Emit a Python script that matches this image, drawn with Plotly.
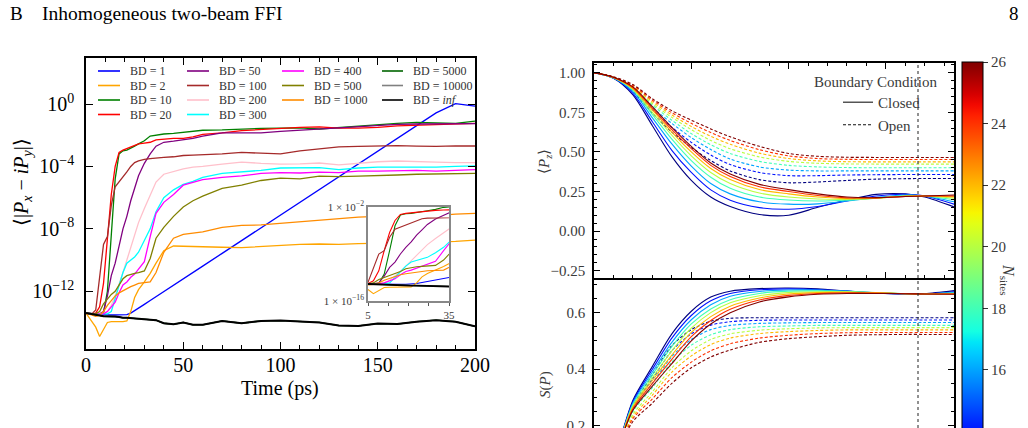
import numpy as np
import plotly.graph_objects as go

W, H = 1028, 428
def fx(p): return p / W
def fy(p): return 1 - p / H

# ---------------- left panel data (log10 <|Px - iPy|>) ----------------
T = [0, 3, 5, 7, 9, 11, 13, 15, 17, 19, 21, 23, 25, 27, 30, 33, 36, 40, 45, 50, 55, 60,
     70, 80, 90, 100, 110, 120, 130, 140, 150, 160, 170, 180, 190, 200]

BD1 = [-13.45, -13.48, -13.5, -13.52, -13.52, -13.52, -13.52, -13.52, -13.52, -13.5, -13.5, -13.4,
       -13.25, -13.08, -12.84, -12.59, -12.35, -12.02, -11.61, -11.2, -10.79, -10.39,
       -9.57, -8.75, -7.94, -7.12, -6.3, -5.48, -4.67, -3.85, -3.03, -2.21, -1.39, -0.57, 0.03, -0.13]
BD2 = [-13.4, -13.9, -14.3, -14.9, -14.4, -14.0, -13.95, -13.95, -13.95, -13.95, -13.9, -13.3,
       -12.4, -11.9, -11.4, -10.85, -10.2, -9.4, -9.1, -9.12, -9.15, -9.15,
       -9.18, -9.2, -9.12, -9.05, -9.0, -8.97, -9.0, -8.95, -8.93, -8.9, -8.87, -8.85, -8.8, -8.72]
BD10 = [-13.4, -13.45, -13.45, -13.45, -13.4, -12.0, -8.5, -4.8, -3.2, -3.0, -2.95, -2.85,
        -2.7, -2.55, -2.35, -2.05, -1.98, -1.92, -1.88, -1.8, -1.75, -1.68,
        -1.66, -1.6, -1.56, -1.55, -1.53, -1.6, -1.5, -1.4, -1.3, -1.24, -1.18, -1.2, -1.24, -1.1]
BD20 = [-13.4, -13.45, -13.4, -13.0, -11.5, -8.5, -5.8, -4.0, -3.1, -2.95, -2.85, -2.8,
        -2.65, -2.55, -2.5, -2.45, -2.3, -2.25, -2.2, -2.2, -2.1, -1.95,
        -1.85, -1.7, -1.63, -1.6, -1.5, -1.47, -1.55, -1.55, -1.5, -1.4, -1.35, -1.3, -1.28, -1.24]
BD50 = [-13.4, -13.45, -13.45, -13.45, -13.3, -12.3, -11.0, -10.2, -9.0, -8.0, -7.2, -6.2,
        -5.4, -4.6, -3.8, -3.2, -2.7, -2.45, -2.38, -2.3, -2.2, -2.05,
        -1.85, -1.85, -1.85, -1.75, -1.68, -1.58, -1.55, -1.45, -1.38, -1.3, -1.28, -1.28, -1.27, -1.25]
BD100 = [-13.4, -13.45, -13.2, -11.0, -9.0, -8.5, -6.5, -5.3, -5.0, -4.7, -4.35, -4.0,
         -3.75, -3.65, -3.55, -3.5, -3.45, -3.42, -3.38, -3.3, -3.27, -3.25,
         -3.2, -3.1, -3.15, -3.2, -3.0, -2.88, -2.75, -2.72, -2.7, -2.67, -2.7, -2.72, -2.68, -2.69]
BD200 = [-13.4, -13.45, -13.45, -13.45, -13.4, -13.3, -12.9, -12.3, -11.6, -10.8, -10.0, -9.2,
         -8.4, -7.6, -6.7, -5.9, -5.0, -4.5, -4.3, -4.15, -4.05, -4.0,
         -3.85, -3.72, -3.8, -3.85, -3.83, -3.78, -3.9, -3.78, -3.7, -3.65, -3.7, -3.72, -3.75, -3.76]
BD300 = [-13.4, -13.45, -13.45, -13.45, -13.45, -13.45, -13.3, -12.5, -11.6, -10.8, -10.2, -10.0,
         -9.8, -9.5, -8.8, -8.0, -6.9, -6.0, -5.5, -5.15, -4.95, -4.7,
         -4.45, -4.35, -4.25, -4.1, -4.1, -4.08, -4.2, -4.1, -4.05, -4.05, -4.08, -4.05, -4.0, -3.97]
BD400 = [-13.4, -13.45, -13.45, -13.45, -13.45, -13.3, -13.0, -12.7, -12.1, -11.6, -11.4, -11.1,
         -10.9, -10.6, -10.1, -8.5, -7.0, -6.3, -5.8, -5.2, -5.0, -4.85,
         -4.7, -4.6, -4.45, -4.4, -4.42, -4.36, -4.4, -4.3, -4.3, -4.28, -4.25, -4.3, -4.25, -4.2]
BD500 = [-13.4, -13.45, -13.45, -13.3, -12.8, -12.5, -12.2, -12.0, -11.6, -11.2, -11.0, -10.9,
         -10.85, -10.8, -10.7, -9.9, -8.6, -7.9, -7.2, -6.6, -6.2, -5.9,
         -5.4, -5.2, -4.9, -4.75, -4.8, -4.62, -4.65, -4.62, -4.6, -4.55, -4.5, -4.47, -4.45, -4.44]
BD1000 = [-13.4, -13.5, -13.6, -13.55, -13.3, -12.9, -12.6, -12.3, -12.1, -11.95, -11.8, -11.7,
          -11.6, -11.5, -11.45, -11.4, -10.8, -9.5, -8.6, -8.35, -8.28, -8.2,
          -7.9, -7.78, -7.75, -7.65, -7.55, -7.42, -7.35, -7.25, -7.2, -7.25, -7.12, -7.15, -7.05, -7.01]
BDinf = [-13.4, -13.45, -13.5, -13.55, -13.6, -13.6, -13.62, -13.62, -13.65, -13.7, -13.7, -13.72,
         -13.72, -13.74, -13.75, -13.8, -13.85, -14.05, -14.12, -14.0, -14.15, -14.15,
         -13.9, -14.05, -13.9, -13.88, -13.95, -14.0, -14.2, -14.22, -14.07, -14.1, -13.95, -13.85, -13.95, -14.25]
# BD = 5000 and BD = 10000 lie underneath the (thicker) BD = inf curve
BD5000 = list(BDinf)
BD10000 = list(BDinf)

BD_LABELS = ["BD = 1", "BD = 2", "BD = 10", "BD = 20", "BD = 50", "BD = 100", "BD = 200",
             "BD = 300", "BD = 400", "BD = 500", "BD = 1000", "BD = 5000", "BD = 10000",
             "BD = <i>inf</i>"]
BD_VALUES = [BD1, BD2, BD10, BD20, BD50, BD100, BD200, BD300, BD400, BD500, BD1000,
             BD5000, BD10000, BDinf]
BD_COLORS = ["#0000ff", "#ffa500", "#008000", "#ff0000", "#800080", "#a52a2a", "#ffc0cb",
             "#00ffff", "#ff00ff", "#808000", "#ff8c00", "#006400", "#808080", "#000000"]

# ---------------- right panels data ----------------
NS = [12, 14, 16, 18, 20, 22, 24, 26]
TR = [0, 2, 4, 6, 8, 10, 12, 14, 17, 20, 23, 26, 29, 32, 34, 37]
PZ_CLOSED = {
    12: [1.0, 0.965, 0.86, 0.665, 0.47, 0.32, 0.215, 0.155, 0.105, 0.10, 0.15, 0.196, 0.232, 0.235, 0.215, 0.153],
    14: [1.0, 0.966, 0.87, 0.69, 0.51, 0.37, 0.26, 0.195, 0.148, 0.138, 0.155, 0.19, 0.222, 0.232, 0.222, 0.17],
    16: [1.0, 0.967, 0.88, 0.715, 0.55, 0.41, 0.30, 0.235, 0.185, 0.17, 0.172, 0.19, 0.212, 0.228, 0.222, 0.185],
    18: [1.0, 0.968, 0.89, 0.735, 0.58, 0.445, 0.34, 0.27, 0.215, 0.196, 0.19, 0.195, 0.208, 0.225, 0.222, 0.198],
    20: [1.0, 0.969, 0.895, 0.75, 0.605, 0.475, 0.37, 0.30, 0.24, 0.215, 0.203, 0.2, 0.207, 0.222, 0.222, 0.208],
    22: [1.0, 0.97, 0.90, 0.765, 0.625, 0.50, 0.395, 0.325, 0.262, 0.235, 0.215, 0.205, 0.208, 0.22, 0.222, 0.216],
    24: [1.0, 0.97, 0.905, 0.775, 0.64, 0.52, 0.415, 0.345, 0.28, 0.25, 0.225, 0.21, 0.21, 0.219, 0.222, 0.222],
    26: [1.0, 0.971, 0.91, 0.785, 0.655, 0.535, 0.43, 0.36, 0.295, 0.262, 0.235, 0.215, 0.211, 0.218, 0.222, 0.228],
}
PZ_OPEN = {
    12: [1.0, 0.967, 0.88, 0.745, 0.625, 0.528, 0.445, 0.38, 0.325, 0.305, 0.31, 0.32, 0.328, 0.331, 0.332, 0.332],
    14: [1.0, 0.968, 0.89, 0.765, 0.655, 0.56, 0.48, 0.42, 0.37, 0.35, 0.35, 0.354, 0.356, 0.357, 0.357, 0.357],
    16: [1.0, 0.969, 0.895, 0.78, 0.68, 0.59, 0.515, 0.455, 0.405, 0.385, 0.38, 0.38, 0.38, 0.38, 0.38, 0.38],
    18: [1.0, 0.97, 0.90, 0.795, 0.70, 0.615, 0.545, 0.49, 0.44, 0.415, 0.405, 0.401, 0.40, 0.40, 0.40, 0.40],
    20: [1.0, 0.971, 0.907, 0.805, 0.718, 0.64, 0.572, 0.52, 0.468, 0.44, 0.428, 0.424, 0.423, 0.423, 0.423, 0.423],
    22: [1.0, 0.972, 0.913, 0.816, 0.733, 0.66, 0.598, 0.548, 0.492, 0.458, 0.443, 0.438, 0.437, 0.437, 0.437, 0.437],
    24: [1.0, 0.973, 0.919, 0.826, 0.747, 0.68, 0.622, 0.572, 0.514, 0.475, 0.458, 0.453, 0.452, 0.452, 0.452, 0.452],
    26: [1.0, 0.975, 0.925, 0.835, 0.76, 0.70, 0.645, 0.595, 0.535, 0.49, 0.472, 0.466, 0.465, 0.465, 0.465, 0.465],
}
S_CLOSED = {
    12: [0, 0.09, 0.29, 0.41, 0.525, 0.605, 0.655, 0.676, 0.685, 0.687, 0.684, 0.676, 0.669, 0.666, 0.667, 0.678],
    14: [0, 0.09, 0.285, 0.40, 0.51, 0.59, 0.642, 0.668, 0.681, 0.684, 0.682, 0.676, 0.67, 0.666, 0.666, 0.674],
    16: [0, 0.09, 0.28, 0.39, 0.495, 0.575, 0.628, 0.658, 0.675, 0.68, 0.68, 0.676, 0.67, 0.667, 0.666, 0.671],
    18: [0, 0.09, 0.275, 0.38, 0.48, 0.56, 0.613, 0.646, 0.668, 0.676, 0.677, 0.675, 0.671, 0.667, 0.666, 0.669],
    20: [0, 0.09, 0.27, 0.37, 0.465, 0.545, 0.60, 0.635, 0.66, 0.671, 0.674, 0.674, 0.671, 0.667, 0.666, 0.668],
    22: [0, 0.09, 0.265, 0.36, 0.45, 0.53, 0.586, 0.623, 0.652, 0.666, 0.671, 0.672, 0.67, 0.667, 0.666, 0.667],
    24: [0, 0.09, 0.26, 0.35, 0.435, 0.515, 0.572, 0.612, 0.645, 0.661, 0.668, 0.67, 0.669, 0.667, 0.666, 0.666],
    26: [0, 0.09, 0.255, 0.34, 0.42, 0.50, 0.56, 0.60, 0.638, 0.656, 0.665, 0.668, 0.668, 0.667, 0.666, 0.665],
}
S_OPEN = {
    12: [0, 0.09, 0.27, 0.38, 0.483, 0.54, 0.57, 0.58, 0.582, 0.582, 0.582, 0.582, 0.582, 0.582, 0.582, 0.582],
    14: [0, 0.09, 0.265, 0.365, 0.465, 0.525, 0.556, 0.568, 0.573, 0.574, 0.574, 0.574, 0.574, 0.574, 0.574, 0.574],
    16: [0, 0.088, 0.26, 0.35, 0.445, 0.505, 0.54, 0.555, 0.562, 0.564, 0.565, 0.565, 0.565, 0.565, 0.565, 0.565],
    18: [0, 0.088, 0.25, 0.335, 0.425, 0.485, 0.522, 0.54, 0.55, 0.553, 0.555, 0.555, 0.555, 0.555, 0.555, 0.555],
    20: [0, 0.087, 0.24, 0.32, 0.405, 0.465, 0.505, 0.525, 0.538, 0.543, 0.546, 0.547, 0.547, 0.547, 0.547, 0.547],
    22: [0, 0.087, 0.232, 0.308, 0.39, 0.447, 0.487, 0.51, 0.526, 0.533, 0.537, 0.539, 0.539, 0.539, 0.539, 0.539],
    24: [0, 0.086, 0.225, 0.295, 0.37, 0.425, 0.465, 0.49, 0.51, 0.52, 0.526, 0.529, 0.53, 0.53, 0.53, 0.53],
    26: [0, 0.085, 0.215, 0.28, 0.35, 0.405, 0.443, 0.468, 0.495, 0.508, 0.515, 0.52, 0.522, 0.523, 0.523, 0.523],
}
T_MARK = 33.3
N_MIN, N_MAX = 12, 26


def jet(v):
    r = np.interp(v, [0, 0.35, 0.66, 0.89, 1], [0, 0, 1, 1, 0.5])
    g = np.interp(v, [0, 0.125, 0.375, 0.64, 0.91, 1], [0, 0, 1, 1, 0, 0])
    b = np.interp(v, [0, 0.11, 0.34, 0.65, 1], [0.5, 1, 1, 0, 0])
    return "rgb(%d,%d,%d)" % (round(r * 255), round(g * 255), round(b * 255))


JET = [[float(v), jet(v)] for v in np.linspace(0, 1, 41)]
SERIF = "Liberation Serif"
GREY_TXT = "#3a3a3a"

fig = go.Figure()

# main left panel traces
for lab, vals, col in zip(BD_LABELS, BD_VALUES, BD_COLORS):
    w = 2.0 if col == "#000000" else 1.3
    fig.add_trace(go.Scatter(x=T, y=np.power(10.0, vals), mode="lines", name=lab,
                             line=dict(color=col, width=w), showlegend=False,
                             xaxis="x", yaxis="y", hoverinfo="skip"))

# inset: opaque background then the same curves
fig.add_trace(go.Scatter(x=[0, 40, 40, 0, 0], y=[1e-20, 1e-20, 1, 1, 1e-20], fill="toself",
                         fillcolor="white", line=dict(width=0), mode="lines",
                         xaxis="x2", yaxis="y2", showlegend=False, hoverinfo="skip"))
for lab, vals, col in zip(BD_LABELS, BD_VALUES, BD_COLORS):
    w = 1.8 if col == "#000000" else 1.1
    fig.add_trace(go.Scatter(x=T, y=np.power(10.0, vals), mode="lines",
                             line=dict(color=col, width=w), showlegend=False,
                             xaxis="x2", yaxis="y2", hoverinfo="skip"))

# right panels
for N in NS:
    c = jet((N - N_MIN) / (N_MAX - N_MIN))
    for data, ax, ay, dash in [(PZ_CLOSED, "x3", "y3", "solid"), (PZ_OPEN, "x3", "y3", "3px,2px"),
                               (S_CLOSED, "x4", "y4", "solid"), (S_OPEN, "x4", "y4", "3px,2px")]:
        fig.add_trace(go.Scatter(x=TR, y=data[N], mode="lines",
                                 line=dict(color=c, width=1.1, dash=dash, shape="spline", smoothing=0.8),
                                 showlegend=False, xaxis=ax, yaxis=ay, hoverinfo="skip"))

# legend entries for boundary condition
fig.add_trace(go.Scatter(x=[None], y=[None], mode="lines", name="Closed",
                         line=dict(color="#555555", width=1.5), xaxis="x3", yaxis="y3"))
fig.add_trace(go.Scatter(x=[None], y=[None], mode="lines", name="Open",
                         line=dict(color="#111111", width=1.2, dash="3px,2px"), xaxis="x3", yaxis="y3"))

# colorbar carrier
fig.add_trace(go.Scatter(x=[None], y=[None], mode="markers", showlegend=False, xaxis="x3", yaxis="y3",
                         marker=dict(color=[N_MIN], colorscale=JET, cmin=N_MIN, cmax=N_MAX, showscale=True,
                                     colorbar=dict(x=fx(962), xanchor="left", y=fy(62), yanchor="top",
                                                   lenmode="pixels", len=431, thickness=21,
                                                   xpad=0, ypad=0, outlinewidth=1, outlinecolor="black",
                                                   ticks="outside", ticklen=5, tickcolor="#333",
                                                   tickvals=[14, 16, 18, 20, 22, 24, 26],
                                                   tickfont=dict(family=SERIF, size=15, color=GREY_TXT)))))

main_ax = dict(showline=True, linecolor="black", linewidth=1.5, mirror="allticks", ticks="inside",
               showgrid=False, zeroline=False, tickcolor="black")
right_ax = dict(showline=True, linecolor="black", linewidth=1.5, mirror="allticks", ticks="inside",
                showgrid=False, zeroline=False, tickcolor="black", ticklen=6, tickwidth=1.2)

fig.update_layout(
    width=W, height=H, margin=dict(l=0, r=0, t=0, b=0, autoexpand=False),
    paper_bgcolor="white", plot_bgcolor="white",
    font=dict(family=SERIF, color="black"),
    showlegend=True,
    legend=dict(x=fx(838), y=fy(86), xanchor="left", yanchor="top", bgcolor="rgba(0,0,0,0)",
                font=dict(family=SERIF, size=15, color=GREY_TXT), tracegroupgap=0),
    xaxis=dict(main_ax, domain=[fx(86), fx(475)], range=[0, 200], anchor="y", tick0=0, dtick=50,
               ticklen=7, tickwidth=1.2, ticklabelstandoff=-3,
               minor=dict(dtick=10, ticklen=4, ticks="inside", tickwidth=1, tickcolor="black"),
               tickfont=dict(family=SERIF, size=20)),
    yaxis=dict(main_ax, domain=[fy(349), fy(58)], type="log", range=[-15.7, 2.95], anchor="x",
               tickvals=[1, 1e-4, 1e-8, 1e-12],
               ticktext=["10<sup>0</sup>", "10<sup>−4</sup>", "10<sup>−8</sup>", "10<sup>−12</sup>"],
               ticklen=7, tickwidth=1.2, ticklabelstandoff=6, tickfont=dict(family=SERIF, size=20)),
    xaxis2=dict(domain=[fx(368), fx(449)], range=[5, 35], anchor="y2", showline=True, linecolor="#888888",
                linewidth=1.5, mirror=True, ticks="outside", ticklen=3, tickcolor="#555",
                tickvals=[5, 12.5, 20, 27.5, 35], ticktext=["5", "", "", "", "35"], showgrid=False,
                zeroline=False, tickfont=dict(family=SERIF, size=11, color=GREY_TXT)),
    yaxis2=dict(domain=[fy(301), fy(207)], type="log", range=[-16, -2], anchor="x2", showline=True,
                linecolor="#888888", linewidth=1.5, mirror=True, ticks="", showgrid=False, zeroline=False,
                tickvals=[1e-2, 1e-16],
                ticktext=["1 × 10<sup>−2</sup>", "1 × 10<sup>−16</sup>"],
                tickfont=dict(family=SERIF, size=11, color=GREY_TXT)),
    xaxis3=dict(right_ax, domain=[fx(594), fx(954)], range=[0, 37], anchor="y3", dtick=10, tick0=0,
                showticklabels=False,
                minor=dict(dtick=2, ticklen=3.5, ticks="inside", tickwidth=1, tickcolor="black")),
    yaxis3=dict(right_ax, domain=[fy(278), fy(63)], range=[-0.296, 1.061], anchor="x3", dtick=0.25,
                tick0=0, tickformat=".2f", ticklabelstandoff=4,
                minor=dict(dtick=0.05, ticklen=3.5, ticks="inside", tickwidth=1, tickcolor="black"),
                tickfont=dict(family=SERIF, size=15, color=GREY_TXT)),
    xaxis4=dict(domain=[fx(594), fx(954)], range=[0, 37], anchor="y4", showline=False, ticks="",
                showticklabels=False, showgrid=False, zeroline=False),
    yaxis4=dict(right_ax, domain=[0, fy(278)], range=[0.192, 0.7226], anchor="x4",
                tickvals=[0.2, 0.4, 0.6], tickformat=".1f", ticklabelstandoff=4, ticklabeloverflow="allow",
                minor=dict(dtick=0.05, ticklen=3.5, ticks="inside", tickwidth=1, tickcolor="black"),
                tickfont=dict(family=SERIF, size=15, color=GREY_TXT)),
)

# gray shaded window (t = 5..35 ps, up to 1e-2)
fig.add_shape(type="rect", xref="x", yref="y", x0=5, x1=35, y0=-15.7, y1=-2,
              fillcolor="#c8c8c8", line=dict(width=0), layer="below")
# dotted marker line on right panels
for yr in ["y3 domain", "y4 domain"]:
    xr = "x3" if yr.startswith("y3") else "x4"
    fig.add_shape(type="line", xref=xr, yref=yr, x0=T_MARK, x1=T_MARK, y0=0, y1=1,
                  line=dict(color="#222", width=1, dash="dot"))

# manual multi-column legend for the left panel
cols = [(98, 120, 128), (187, 209, 217), (282, 304, 312), (382, 403, 411)]
rows = [71, 85.5, 100, 114.5]
layout_order = [[0, 1, 2, 3], [4, 5, 6, 7], [8, 9, 10], [11, 12, 13]]
for ci, idxs in enumerate(layout_order):
    x0, x1, xt = cols[ci]
    for ri, k in enumerate(idxs):
        yy = rows[ri]
        fig.add_shape(type="line", xref="paper", yref="paper", x0=fx(x0), x1=fx(x1), y0=fy(yy), y1=fy(yy),
                      line=dict(color=BD_COLORS[k], width=1.6))
        fig.add_annotation(x=fx(xt), y=fy(yy), xref="paper", yref="paper", text=BD_LABELS[k],
                           showarrow=False, xanchor="left", yanchor="middle",
                           font=dict(family=SERIF, size=12, color="#333"))

ann = [
    dict(x=fx(8), y=fy(14), text="B", xanchor="left", font=dict(size=19)),
    dict(x=fx(40), y=fy(14), text="Inhomogeneous two-beam FFI", xanchor="left", font=dict(size=19.5)),
    dict(x=fx(1021), y=fy(14), text="8", xanchor="right", font=dict(size=19)),
    dict(x=fx(280), y=fy(388), text="Time (ps)", xanchor="center", font=dict(size=20)),
    dict(x=fx(22), y=fy(182), text="⟨|<i>P<sub>x</sub></i> − <i>iP<sub>y</sub></i>|⟩", textangle=-90,
         xanchor="center", font=dict(size=20)),
    dict(x=fx(545), y=fy(162), text="⟨<i>P<sub>z</sub></i>⟩", textangle=-90, xanchor="center",
         font=dict(size=15, color=GREY_TXT)),
    dict(x=fx(545), y=fy(385), text="<i>S</i>(<i>P</i>)", textangle=-90, xanchor="center",
         font=dict(size=15, color=GREY_TXT)),
    dict(x=fx(812), y=fy(82), text="Boundary Condition", xanchor="left", font=dict(size=15, color=GREY_TXT)),
    dict(x=fx(1008), y=fy(280), text="<i>N</i><sub>sites</sub>", textangle=90, xanchor="center",
         font=dict(size=16, color=GREY_TXT)),
]
for a in ann:
    a.setdefault("yanchor", "middle")
    f = a.pop("font")
    f.setdefault("family", SERIF)
    f.setdefault("color", "black")
    fig.add_annotation(xref="paper", yref="paper", showarrow=False, font=f, **a)

fig.write_html("out.html")
